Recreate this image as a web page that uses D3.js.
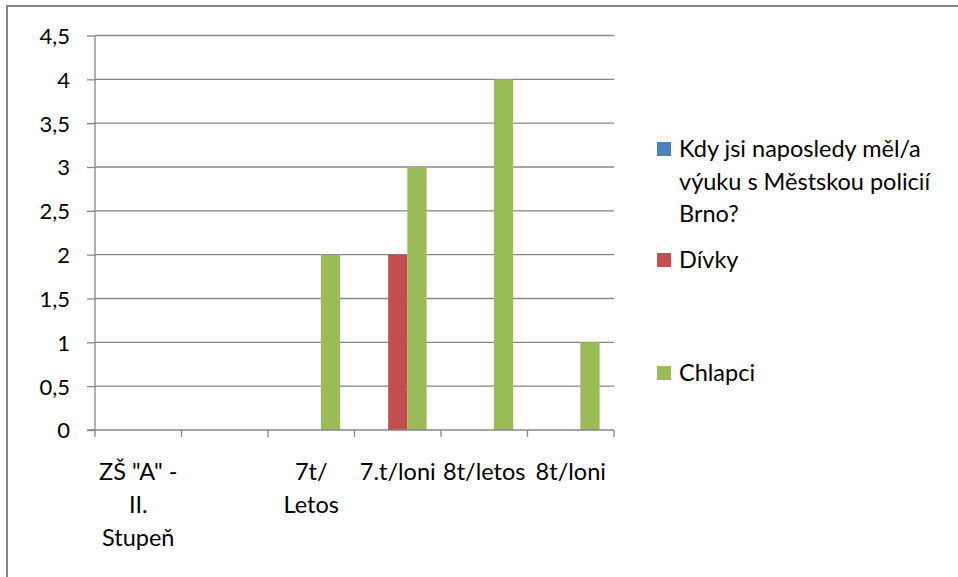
<!DOCTYPE html>
<html>
<head>
<meta charset="utf-8">
<script src="https://cdn.jsdelivr.net/npm/d3@7"></script>
<style>
  body { margin: 0; background: #fff; }
  text { font-family: Lato, "Open Sans", sans-serif; fill: #000; }
</style>
</head>
<body>
<script>
// categories and series
const categories = ["ZŠ \"A\" - II. Stupeň", "", "7t/ Letos", "7.t/loni", "8t/letos", "8t/loni"]
const categoryLines = [["ZŠ \"A\" -", "II.", "Stupeň"], [], ["7t/", "Letos"], ["7.t/loni"], ["8t/letos"], ["8t/loni"]]
const seriesNames = ["Kdy jsi naposledy měl/a výuku s Městskou policií Brno?", "Dívky", "Chlapci"]
const kdyValues = [null, null, null, null, null, null]
const divkyValues = [null, null, null, 2, null, null]
const chlapciValues = [null, null, 2, 3, 4, 1]
const yTicks = [0, 0.5, 1, 1.5, 2, 2.5, 3, 3.5, 4, 4.5]

const colors = ["#4F81BD", "#C0504D", "#9BBB59"]
const allSeries = [kdyValues, divkyValues, chlapciValues]

const width = 958
const height = 577
const plotLeft = 95, plotRight = 614, plotTop = 35.5, plotBottom = 430
const tickFont = 22
const labelFont = 23.5

const svg = d3.select("body").append("svg")
  .attr("width", width)
  .attr("height", height)

// chart frame (only top & left are visible in the shot)
svg.append("rect")
  .attr("x", 7).attr("y", 6)
  .attr("width", 980).attr("height", 600)
  .attr("fill", "none")
  .attr("stroke", "#868686")
  .attr("stroke-width", 2)

const x = d3.scaleBand(d3.range(categories.length), [plotLeft, plotRight])
const y = d3.scaleLinear([0, 4.5], [plotBottom, plotTop])
// 3 bars per group, gap width 150%
const inner = d3.scaleBand(d3.range(3), [0, x.bandwidth()]).paddingInner(0).paddingOuter(0.75)

// gridlines
svg.append("g")
  .selectAll("line")
  .data(yTicks.filter(d => d > 0))
  .join("line")
  .attr("x1", plotLeft).attr("x2", plotRight)
  .attr("y1", d => y(d)).attr("y2", d => y(d))
  .attr("stroke", "#868686")
  .attr("stroke-width", 1.3)

// bars
allSeries.forEach((vals, si) => {
  svg.append("g")
    .selectAll("rect")
    .data(vals.map((v, i) => ({ v, i })).filter(d => d.v != null))
    .join("rect")
    .attr("x", d => x(d.i) + inner(si))
    .attr("width", inner.bandwidth())
    .attr("y", d => y(d.v))
    .attr("height", d => y(0) - y(d.v))
    .attr("fill", colors[si])
})

// y axis
const yAxis = d3.axisLeft(y).tickValues(yTicks).tickSize(8).tickPadding(17)
  .tickFormat(d => String(d).replace(".", ","))
const gy = svg.append("g").attr("transform", `translate(${plotLeft},0)`).call(yAxis)
gy.select(".domain").attr("stroke", "#868686").attr("stroke-width", 1.3).attr("d", `M0,${plotTop}V${plotBottom}`)
gy.selectAll(".tick line").attr("stroke", "#868686").attr("stroke-width", 1.3)
gy.selectAll(".tick text").attr("font-size", tickFont).attr("dy", "0.36em")

// x axis
const boundaries = d3.range(categories.length + 1).map(i => plotLeft + i * x.step())
svg.append("line")
  .attr("x1", plotLeft - 8).attr("x2", plotRight)
  .attr("y1", plotBottom).attr("y2", plotBottom)
  .attr("stroke", "#868686").attr("stroke-width", 1.3)
svg.append("g").selectAll("line")
  .data(boundaries)
  .join("line")
  .attr("x1", d => d).attr("x2", d => d)
  .attr("y1", plotBottom).attr("y2", plotBottom + 7)
  .attr("stroke", "#868686").attr("stroke-width", 1.3)

const xl = svg.append("g").selectAll("text")
  .data(categoryLines)
  .join("text")
  .attr("x", (d, i) => x(i) + x.bandwidth() / 2)
  .attr("y", 480)
  .attr("text-anchor", "middle")
  .attr("font-size", labelFont)
xl.selectAll("tspan")
  .data((d, i) => d.map(t => ({ t, i })))
  .join("tspan")
  .attr("x", d => x(d.i) + x.bandwidth() / 2)
  .attr("dy", (d, j) => j === 0 ? 0 : 33)
  .text(d => d.t)

// legend
const legendLines = [["Kdy jsi naposledy měl/a", "výuku s Městskou policií", "Brno?"], ["Dívky"], ["Chlapci"]]
const legendBase = [157, 268, 381]
const lg = svg.append("g").selectAll("g")
  .data(legendLines)
  .join("g")
lg.append("rect")
  .attr("x", 657).attr("y", (d, i) => legendBase[i] - 15)
  .attr("width", 14).attr("height", 14)
  .attr("fill", (d, i) => colors[i])
lg.append("text")
  .attr("x", 679).attr("y", (d, i) => legendBase[i])
  .attr("font-size", labelFont)
  .selectAll("tspan")
  .data(d => d)
  .join("tspan")
  .attr("x", 679)
  .attr("dy", (d, j) => j === 0 ? 0 : 32.5)
  .text(d => d)
</script>
</body>
</html>
